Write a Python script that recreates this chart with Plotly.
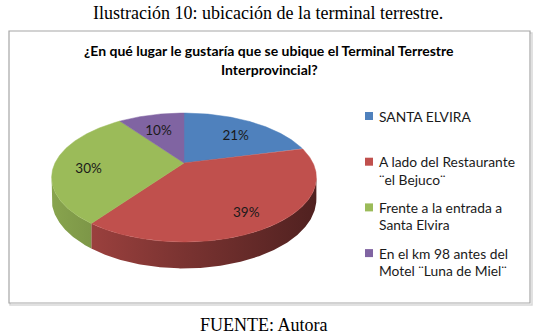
import math
import textwrap
import plotly.graph_objects as go

# ---------------- data ----------------
categories = [
    "SANTA ELVIRA",
    "A lado del Restaurante ¨el Bejuco¨",
    "Frente a la entrada a Santa Elvira",
    "En el km 98 antes del Motel ¨Luna de Miel¨",
]
percentages = [21, 39, 30, 10]
colors = ["#4F81BD", "#C0504D", "#9BBB59", "#8064A2"]
title_lines = ["¿En qué lugar le gustaría que se ubique el Terminal Terrestre", "Interprovincial?"]
caption = "Ilustración 10: ubicación de la terminal terrestre."
source = "FUENTE: Autora"

# ---------------- 3D pie projection (pixel space axes) ----------------
CX, CY = 184.0, 163.0     # projected centre of the top face
B, A, C = 129.0, 61.2, 20.5  # half width, half depth, wall height
K = 0.225                 # perspective factor
LAB_R = 0.74
LAB_Z = -0.3


def proj(u, v, z=0.0):
    d = 1.0 + K * v
    return CX + B * u / d, CY - (A * v + C * z) / d


def rim(t0, t1, z=0.0, r=1.0):
    n = max(4, int(abs(t1 - t0) * 2))
    xs, ys = [], []
    for i in range(n + 1):
        t = math.radians(t0 + (t1 - t0) * i / n)
        x, y = proj(r * math.sin(t), r * math.cos(t), z)
        xs.append(x)
        ys.append(y)
    return xs, ys


def shade(hexc, f):
    h = hexc.lstrip("#")
    r, g, b = (int(h[i:i + 2], 16) for i in (0, 2, 4))
    return f"rgb({int(r * f)},{int(g * f)},{int(b * f)})"


total = sum(percentages)
bounds = []
acc = 0.0
for p in percentages:
    t0 = acc / total * 360.0
    acc += p
    bounds.append((t0, acc / total * 360.0))

fig = go.Figure()

# walls (front-facing part only)
front0 = math.degrees(math.acos(-K))
front1 = 360.0 - front0
xl, _ = proj(-math.sqrt(1 - K * K), -K)
xr, _ = proj(math.sqrt(1 - K * K), -K)
for (t0, t1), col in zip(bounds, colors):
    a0, a1 = max(t0, front0), min(t1, front1)
    if a1 <= a0:
        continue
    tx, ty = rim(a0, a1, 0.0)
    bx, by = rim(a0, a1, -1.0)
    xs = tx + bx[::-1] + [tx[0]]
    ys = ty + by[::-1] + [ty[0]]
    fig.add_trace(go.Scatter(
        x=xs, y=ys, mode="lines", fill="toself", line=dict(width=0),
        fillgradient=dict(type="horizontal", start=xl, stop=xr,
                          colorscale=[[0, shade(col, 0.88)], [0.5, shade(col, 0.64)], [1, shade(col, 0.42)]]),
        hoverinfo="skip", showlegend=False))

# top faces
for (t0, t1), col in zip(bounds, colors):
    xs, ys = rim(t0, t1, 0.0)
    xs = [CX] + xs + [CX]
    ys = [CY] + ys + [CY]
    fig.add_trace(go.Scatter(x=xs, y=ys, mode="lines", fill="toself", fillcolor=col,
                             line=dict(width=0.5, color=col), hoverinfo="skip", showlegend=False))

# data labels
lx, ly, lt = [], [], []
for (t0, t1), p in zip(bounds, percentages):
    t = math.radians((t0 + t1) / 2)
    x, y = proj(LAB_R * math.sin(t), LAB_R * math.cos(t), LAB_Z)
    lx.append(x)
    ly.append(y)
    lt.append(f"{p}%")
fig.add_trace(go.Scatter(x=lx, y=ly, mode="text", text=lt,
                         textfont=dict(family="Lato", size=13.5, color="#1a1a1a"),
                         hoverinfo="skip", showlegend=False))

shapes = [dict(type="rect", xref="x", yref="y", x0=10, y0=33, x1=532, y1=305,
               line=dict(color="#D8D8D8", width=1.5), fillcolor="rgba(0,0,0,0)", layer="below"),
          dict(type="rect", xref="x", yref="y", x0=9, y0=31, x1=530, y1=303,
               line=dict(color="#A6A6A6", width=1.2), fillcolor="white", layer="below")]
annotations = []

# legend
for i, (cat, col) in enumerate(zip(categories, colors)):
    y0 = 116 + 45.7 * i
    shapes.append(dict(type="rect", xref="x", yref="y", x0=365, x1=373, y0=y0 - 4, y1=y0 + 4,
                       line=dict(width=0), fillcolor=col))
    for j, line in enumerate(textwrap.wrap(cat, 22)):
        annotations.append(dict(x=377, y=y0 + 17.5 * j, xref="x", yref="y", text=line,
                                showarrow=False, xanchor="left", yanchor="middle",
                                font=dict(family="Lato", size=13.8, color="#1a1a1a")))

# title
for j, line in enumerate(title_lines):
    annotations.append(dict(x=269, y=50 + 19 * j, xref="x", yref="y", text=f"<b>{line}</b>",
                            showarrow=False, xanchor="center", yanchor="middle",
                            font=dict(family="Lato", size=14, color="#000000")))

annotations.append(dict(x=268, y=13, xref="x", yref="y", text=caption, showarrow=False,
                        xanchor="center", yanchor="middle",
                        font=dict(family="Liberation Serif", size=18, color="#000000")))
annotations.append(dict(x=264, y=325, xref="x", yref="y", text=source, showarrow=False,
                        xanchor="center", yanchor="middle",
                        font=dict(family="Liberation Serif", size=18, color="#000000")))

fig.update_layout(
    width=536, height=335, margin=dict(l=0, r=0, t=0, b=0),
    paper_bgcolor="white", plot_bgcolor="white",
    xaxis=dict(range=[0, 536], visible=False, fixedrange=True),
    yaxis=dict(range=[335, 0], visible=False, fixedrange=True),
    shapes=shapes, annotations=annotations, showlegend=False,
)
fig.write_html("out.html")
